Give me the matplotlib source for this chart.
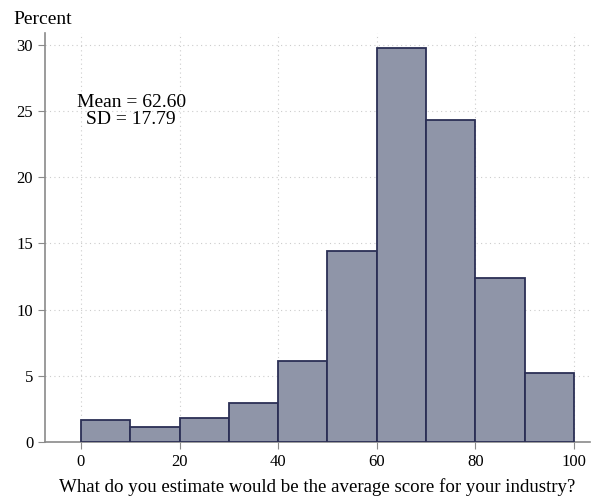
import matplotlib
matplotlib.use("Agg")
import matplotlib.pyplot as plt

bin_edges = [0, 10, 20, 30, 40, 50, 60, 70, 80, 90, 100]
percents = [1.66, 1.1, 1.8, 2.95, 6.15, 14.4, 29.75, 24.3, 12.4, 5.2]
xticks = [0, 20, 40, 60, 80, 100]
yticks = [0, 5, 10, 15, 20, 25, 30]

plt.rcParams['font.family'] = ['Liberation Serif', 'DejaVu Serif']

fig = plt.figure(figsize=(5.92, 5.0), dpi=100)
ax = fig.add_axes([0.076, 0.116, 0.921, 0.818])

lefts = bin_edges[:-1]
widths = [b - a for a, b in zip(bin_edges[:-1], bin_edges[1:])]
ax.bar(lefts, percents, width=widths, align='edge', color='#8f95a8',
       edgecolor='#2b2f55', linewidth=1.3, zorder=3)

ax.set_xlim(-7.3, 103.3)
ax.set_ylim(0, 30.9)
ax.set_xticks(xticks)
ax.set_yticks(yticks)
ax.grid(True, linestyle=(0, (1, 3)), color='#cccccc', linewidth=0.8, zorder=0)

for s in ['top', 'right']:
    ax.spines[s].set_visible(False)
for s in ['left', 'bottom']:
    ax.spines[s].set_color('#8a8a8a')
    ax.spines[s].set_linewidth(1.2)
ax.tick_params(colors='#8a8a8a', labelcolor='black', labelsize=12, length=5)

ax.set_xlabel('What do you estimate would be the average score for your industry?',
              fontsize=13.6, labelpad=6)
fig.text(0.022, 0.945, 'Percent', fontsize=14, ha='left', va='bottom')
ax.text(10.2, 25.0, 'Mean = 62.60\nSD = 17.79', fontsize=14, ha='center', va='center',
        linespacing=0.95)

fig.savefig('out.png', dpi=100)
